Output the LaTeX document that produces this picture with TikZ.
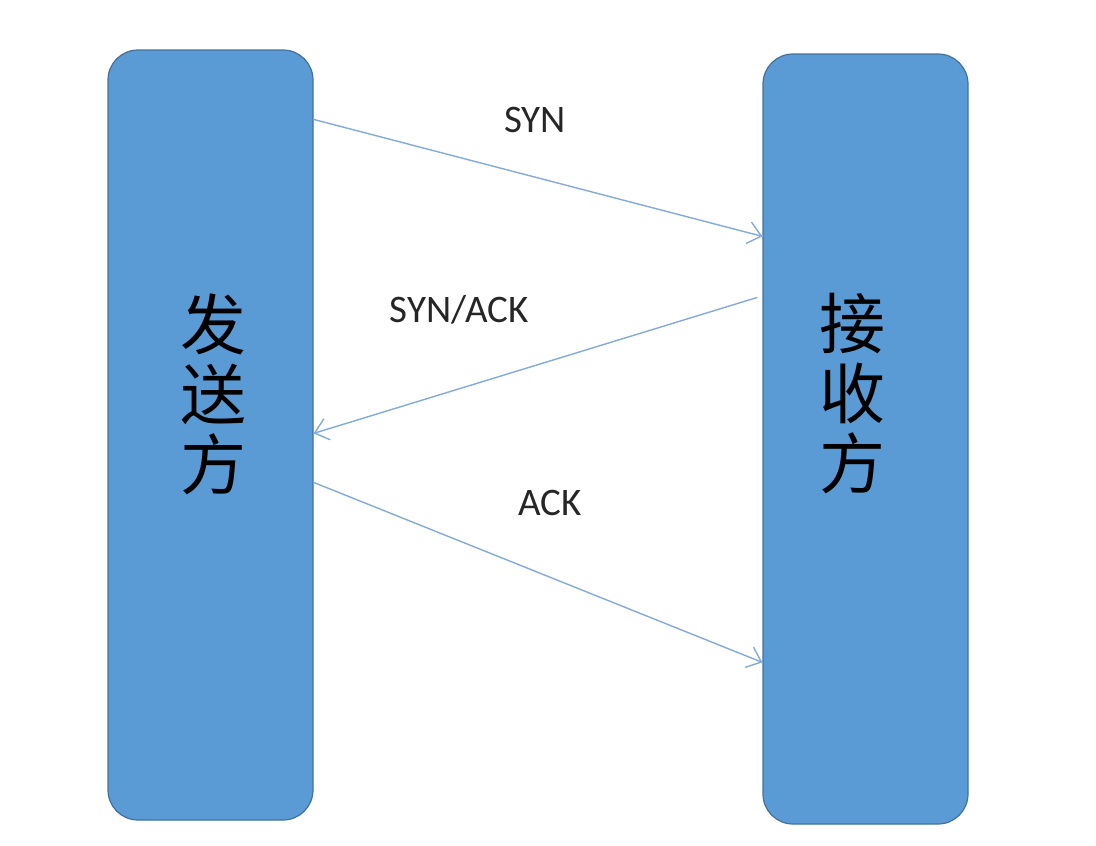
\documentclass[tikz,border=0pt]{standalone}
\usepackage{fontspec}
\setmainfont{Carlito}
\newfontfamily\cjk{Noto Sans CJK SC}
\usetikzlibrary{positioning,arrows.meta}
\definecolor{boxfill}{HTML}{5B9BD5}
\definecolor{boxline}{HTML}{41719C}
\definecolor{msgline}{HTML}{82AADB}

\begin{document}
\begin{tikzpicture}[x=1pt,y=-1pt,
    party/.style={draw=boxline,line width=1.2pt,fill=boxfill,rounded corners=30pt,
      minimum width=205pt,minimum height=770pt,inner sep=0pt},
    partyname/.style={font=\cjk\fontsize{66}{70}\selectfont,align=center,inner sep=0pt},
    msg/.style={msgline,line width=1.4pt,-{Straight Barb[length=13pt,width=22pt]}},
    msglabel/.style={font=\fontsize{39}{44}\selectfont,text=black!85,inner sep=0pt}]
  \useasboundingbox (0,0) rectangle (1096,846);
  % --- los dos extremos ---
  \node[party] (send) at (210.5,435) {};
  \node[party] (recv) at (865.5,439) {};
  \node[partyname] (sendname) at (213,394) {发\\送\\方};
  \node[partyname] (recvname) at (852,394) {接\\收\\方};
  % --- mensajes ---
  \coordinate (syn-a) at ([yshift=-70pt]send.north east);
  \coordinate (syn-b) at ([yshift=-183pt]recv.north west);
  \coordinate (sa-a) at ([yshift=-244pt,xshift=-5pt]recv.north west);
  \coordinate (sa-b) at ([yshift=-384pt]send.north east);
  \coordinate (ack-a) at ([yshift=-433pt]send.north east);
  \coordinate (ack-b) at ([yshift=-609pt]recv.north west);
  \draw[msg] (syn-a) -- (syn-b);
  \draw[msg] (sa-a) -- (sa-b);
  \draw[msg] (ack-a) -- (ack-b);
  \node[msglabel] (synlabel) at (535,120) {SYN};
  \node[msglabel] (salabel) at (459,310) {SYN/ACK};
  \node[msglabel] (acklabel) at (550,503) {ACK};
\end{tikzpicture}
\end{document}
